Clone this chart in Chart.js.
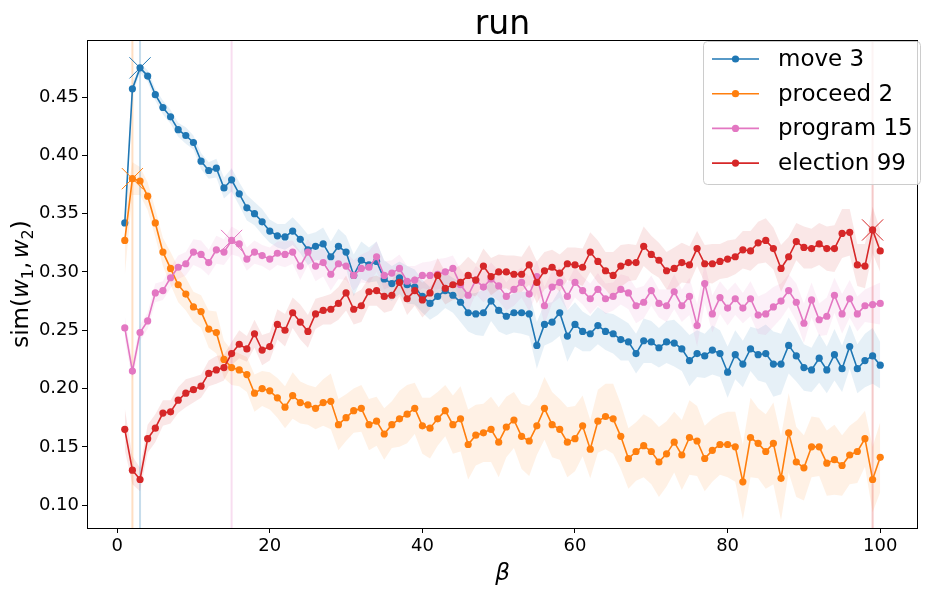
<!DOCTYPE html>
<html>
<head>
<meta charset="utf-8">
<script src="https://cdn.jsdelivr.net/npm/chart.js@4.4.1/dist/chart.umd.min.js"></script>
<style>
  html, body { margin: 0; padding: 0; background: #fff; }
  #wrap { width: 934px; height: 592px; }
</style>
</head>
<body>
<div id="wrap"><canvas id="chart" width="934" height="592"></canvas></div>
<script>
const TITLE = "run";
const X_LABEL = "β";
// y label pieces: [text, style] — "sub" parts are drawn smaller and lowered
const Y_LABEL = [["sim(", "n"], ["w", "i"], ["1", "sub"], [",", "n"], ["w", "i"], ["2", "sub"], [")", "n"]];
const Y_TICKS = [0.10, 0.15, 0.20, 0.25, 0.30, 0.35, 0.40, 0.45];
const X_TICKS = [0, 20, 40, 60, 80, 100];

// beta = 1..100
const BETA = Array.from({ length: 100 }, (_, i) => i + 1);

const MOVE = [
  0.342, 0.457, 0.475, 0.468, 0.452, 0.441, 0.433, 0.422, 0.417, 0.411,
  0.395, 0.387, 0.389, 0.372, 0.379, 0.367, 0.355, 0.350, 0.343, 0.335,
  0.331, 0.330, 0.335, 0.328, 0.319, 0.322, 0.324, 0.313, 0.322, 0.317,
  0.297, 0.310, 0.306, 0.309, 0.294, 0.290, 0.295, 0.289, 0.287, 0.279,
  0.273, 0.279, 0.284, 0.280, 0.274, 0.265, 0.264, 0.265, 0.275, 0.267,
  0.262, 0.265, 0.265, 0.264, 0.237, 0.255, 0.257, 0.265, 0.245, 0.255,
  0.249, 0.247, 0.254, 0.249, 0.247, 0.242, 0.240, 0.230, 0.241, 0.240,
  0.235, 0.240, 0.239, 0.234, 0.224, 0.230, 0.228, 0.233, 0.230, 0.214,
  0.229, 0.221, 0.234, 0.229, 0.230, 0.221, 0.221, 0.237, 0.228, 0.218,
  0.216, 0.226, 0.216, 0.229, 0.217, 0.236, 0.217, 0.224, 0.228, 0.220,
];
const PROCEED = [
  0.327, 0.380, 0.378, 0.365, 0.342, 0.317, 0.303, 0.289, 0.281, 0.270,
  0.266, 0.251, 0.248, 0.225, 0.218, 0.216, 0.212, 0.196, 0.200, 0.198,
  0.192, 0.184, 0.194, 0.188, 0.186, 0.183, 0.188, 0.189, 0.169, 0.175,
  0.181, 0.183, 0.169, 0.172, 0.161, 0.169, 0.174, 0.178, 0.183, 0.168,
  0.166, 0.174, 0.181, 0.169, 0.174, 0.152, 0.160, 0.162, 0.165, 0.154,
  0.167, 0.173, 0.159, 0.155, 0.168, 0.183, 0.169, 0.165, 0.154, 0.157,
  0.168, 0.148, 0.172, 0.176, 0.174, 0.159, 0.140, 0.146, 0.151, 0.146,
  0.137, 0.144, 0.154, 0.143, 0.158, 0.155, 0.140, 0.147, 0.152, 0.152,
  0.150, 0.120, 0.158, 0.153, 0.146, 0.153, 0.123, 0.162, 0.137, 0.132,
  0.150, 0.150, 0.136, 0.139, 0.134, 0.143, 0.146, 0.157, 0.122, 0.141,
];
const PROGRAM = [
  0.252, 0.215, 0.248, 0.258, 0.282, 0.284, 0.295, 0.304, 0.307, 0.317,
  0.315, 0.308, 0.319, 0.317, 0.327, 0.324, 0.311, 0.317, 0.314, 0.311,
  0.316, 0.315, 0.317, 0.305, 0.317, 0.305, 0.308, 0.298, 0.307, 0.305,
  0.297, 0.303, 0.304, 0.313, 0.297, 0.299, 0.303, 0.292, 0.293, 0.297,
  0.297, 0.298, 0.300, 0.303, 0.289, 0.280, 0.293, 0.287, 0.294, 0.288,
  0.279, 0.285, 0.291, 0.281, 0.296, 0.271, 0.287, 0.291, 0.279, 0.291,
  0.284, 0.277, 0.285, 0.277, 0.279, 0.285, 0.282, 0.271, 0.274, 0.284,
  0.273, 0.271, 0.283, 0.271, 0.279, 0.254, 0.290, 0.264, 0.278, 0.269,
  0.277, 0.269, 0.277, 0.263, 0.264, 0.270, 0.275, 0.284, 0.274, 0.256,
  0.276, 0.259, 0.262, 0.280, 0.264, 0.277, 0.264, 0.271, 0.272, 0.273,
];
const ELECTION = [
  0.165, 0.130, 0.122, 0.157, 0.166, 0.179, 0.180, 0.190, 0.196, 0.199,
  0.202, 0.213, 0.216, 0.218, 0.230, 0.238, 0.234, 0.247, 0.233, 0.236,
  0.255, 0.250, 0.265, 0.257, 0.249, 0.264, 0.267, 0.268, 0.273, 0.282,
  0.268, 0.271, 0.283, 0.284, 0.279, 0.280, 0.291, 0.277, 0.284, 0.276,
  0.282, 0.297, 0.286, 0.289, 0.291, 0.297, 0.293, 0.305, 0.296, 0.300,
  0.300, 0.298, 0.298, 0.306, 0.291, 0.301, 0.304, 0.299, 0.307, 0.306,
  0.304, 0.317, 0.309, 0.301, 0.297, 0.305, 0.308, 0.308, 0.322, 0.315,
  0.310, 0.301, 0.303, 0.308, 0.306, 0.320, 0.307, 0.307, 0.309, 0.311,
  0.313, 0.319, 0.318, 0.325, 0.327, 0.320, 0.303, 0.313, 0.326, 0.321,
  0.320, 0.324, 0.320, 0.320, 0.333, 0.334, 0.306, 0.305, 0.336, 0.318,
];

// half-width of the shaded band around each line
const MOVE_SPREAD = [
  0.004, 0.005, 0.004, 0.005, 0.005, 0.006, 0.006, 0.006, 0.007, 0.006,
  0.007, 0.007, 0.008, 0.009, 0.010, 0.010, 0.011, 0.010, 0.011, 0.010,
  0.010, 0.011, 0.012, 0.012, 0.013, 0.012, 0.014, 0.013, 0.015, 0.014,
  0.018, 0.016, 0.015, 0.017, 0.016, 0.015, 0.014, 0.016, 0.015, 0.014,
  0.014, 0.016, 0.015, 0.015, 0.017, 0.016, 0.018, 0.020, 0.017, 0.018,
  0.016, 0.017, 0.018, 0.019, 0.020, 0.018, 0.017, 0.020, 0.022, 0.019,
  0.017, 0.015, 0.016, 0.016, 0.017, 0.018, 0.016, 0.017, 0.019, 0.018,
  0.017, 0.018, 0.020, 0.019, 0.022, 0.020, 0.019, 0.021, 0.020, 0.022,
  0.021, 0.020, 0.019, 0.022, 0.025, 0.028, 0.026, 0.024, 0.022, 0.020,
  0.019, 0.021, 0.020, 0.022, 0.020, 0.019, 0.021, 0.023, 0.024, 0.020,
];
const PROCEED_SPREAD = [
  0.030, 0.014, 0.012, 0.012, 0.012, 0.012, 0.014, 0.015, 0.014, 0.013,
  0.014, 0.016, 0.018, 0.016, 0.015, 0.014, 0.015, 0.016, 0.015, 0.016,
  0.017, 0.018, 0.020, 0.018, 0.017, 0.018, 0.020, 0.024, 0.022, 0.020,
  0.019, 0.020, 0.022, 0.021, 0.022, 0.020, 0.024, 0.025, 0.022, 0.024,
  0.026, 0.023, 0.022, 0.025, 0.028, 0.030, 0.026, 0.025, 0.028, 0.030,
  0.026, 0.024, 0.028, 0.030, 0.025, 0.027, 0.028, 0.026, 0.030, 0.028,
  0.026, 0.025, 0.027, 0.028, 0.030, 0.028, 0.026, 0.025, 0.027, 0.028,
  0.030, 0.028, 0.026, 0.030, 0.032, 0.030, 0.028, 0.027, 0.026, 0.028,
  0.030, 0.032, 0.034, 0.030, 0.032, 0.035, 0.036, 0.034, 0.030, 0.028,
  0.026, 0.025, 0.028, 0.030, 0.026, 0.025, 0.027, 0.024, 0.028, 0.030,
];
const PROGRAM_SPREAD = [
  0.010, 0.008, 0.007, 0.007, 0.008, 0.008, 0.009, 0.010, 0.010, 0.011,
  0.012, 0.011, 0.012, 0.011, 0.012, 0.011, 0.010, 0.010, 0.009, 0.010,
  0.010, 0.011, 0.010, 0.012, 0.011, 0.013, 0.012, 0.014, 0.013, 0.012,
  0.013, 0.012, 0.014, 0.013, 0.012, 0.011, 0.012, 0.013, 0.012, 0.011,
  0.012, 0.013, 0.012, 0.011, 0.013, 0.014, 0.012, 0.013, 0.014, 0.013,
  0.012, 0.014, 0.013, 0.015, 0.014, 0.016, 0.014, 0.013, 0.012, 0.013,
  0.012, 0.013, 0.014, 0.013, 0.012, 0.013, 0.014, 0.015, 0.014, 0.013,
  0.012, 0.014, 0.015, 0.014, 0.016, 0.018, 0.017, 0.016, 0.014, 0.015,
  0.014, 0.013, 0.015, 0.016, 0.018, 0.017, 0.015, 0.014, 0.016, 0.017,
  0.015, 0.014, 0.016, 0.015, 0.017, 0.016, 0.015, 0.014, 0.016, 0.018,
];
const ELECTION_SPREAD = [
  0.018, 0.012, 0.010, 0.012, 0.012, 0.011, 0.010, 0.011, 0.012, 0.011,
  0.010, 0.011, 0.012, 0.011, 0.010, 0.012, 0.011, 0.012, 0.013, 0.012,
  0.013, 0.014, 0.013, 0.015, 0.014, 0.013, 0.012, 0.013, 0.014, 0.015,
  0.013, 0.014, 0.012, 0.013, 0.014, 0.013, 0.012, 0.014, 0.013, 0.015,
  0.014, 0.015, 0.014, 0.013, 0.015, 0.016, 0.014, 0.015, 0.016, 0.015,
  0.014, 0.016, 0.015, 0.017, 0.018, 0.016, 0.015, 0.016, 0.014, 0.015,
  0.016, 0.017, 0.018, 0.016, 0.020, 0.018, 0.016, 0.015, 0.017, 0.016,
  0.015, 0.016, 0.018, 0.017, 0.016, 0.015, 0.016, 0.017, 0.015, 0.016,
  0.015, 0.016, 0.017, 0.018, 0.019, 0.018, 0.020, 0.017, 0.016, 0.018,
  0.017, 0.018, 0.019, 0.020, 0.021, 0.020, 0.018, 0.019, 0.020, 0.018,
];

const SERIES = [
  { label: "move 3", color: "#1f77b4", values: MOVE, spread: MOVE_SPREAD },
  { label: "proceed 2", color: "#ff7f0e", values: PROCEED, spread: PROCEED_SPREAD },
  { label: "program 15", color: "#e377c2", values: PROGRAM, spread: PROGRAM_SPREAD },
  { label: "election 99", color: "#d62728", values: ELECTION, spread: ELECTION_SPREAD },
];

const FONT = "'DejaVu Sans', sans-serif";

function rgba(hex, a) {
  const n = parseInt(hex.slice(1), 16);
  return `rgba(${(n >> 16) & 255},${(n >> 8) & 255},${n & 255},${a})`;
}

function peakOf(s) {
  let best = 0;
  s.values.forEach((v, i) => { if (v > s.values[best]) best = i; });
  return { x: BETA[best], y: s.values[best] };
}
SERIES.forEach((s) => { s.peak = peakOf(s); });

const datasets = [];
SERIES.forEach((s, k) => {
  datasets.push({
    data: BETA.map((b, i) => ({ x: b, y: s.values[i] + s.spread[i] })),
    borderWidth: 0, pointRadius: 0, fill: "+1",
    backgroundColor: rgba(s.color, 0.11), order: 20 - k,
  });
  datasets.push({
    data: BETA.map((b, i) => ({ x: b, y: s.values[i] - s.spread[i] })),
    borderWidth: 0, pointRadius: 0, fill: false, order: 20 - k,
  });
});
SERIES.forEach((s, k) => {
  datasets.push({
    data: BETA.map((b, i) => ({ x: b, y: s.values[i] })),
    borderColor: s.color, backgroundColor: s.color,
    borderWidth: 1.6, pointRadius: 3.6, pointBorderWidth: 0,
    fill: false, tension: 0, order: 10 - k,
  });
});
SERIES.forEach((s) => {
  datasets.push({
    data: [s.peak], showLine: false,
    pointStyle: "crossRot", pointRadius: 15, pointBorderWidth: 1,
    borderColor: s.color, backgroundColor: s.color, order: 0,
  });
});

// y label with italic w and lowered subscripts, drawn along the current x axis
function drawYLabel(ctx, size) {
  const fontOf = (st) => st === "i" ? `italic ${size}px ${FONT}`
    : st === "sub" ? `${size * 0.7}px ${FONT}` : `${size}px ${FONT}`;
  let total = 0;
  Y_LABEL.forEach(([t, st]) => {
    ctx.font = fontOf(st);
    total += ctx.measureText(t).width + (t === "," ? size * 0.15 : 0);
  });
  let x = -total / 2;
  ctx.textAlign = "left";
  Y_LABEL.forEach(([t, st]) => {
    ctx.font = fontOf(st);
    ctx.fillText(t, x, st === "sub" ? size * 0.2 : 0);
    x += ctx.measureText(t).width + (t === "," ? size * 0.15 : 0);
  });
}

const decor = {
  id: "decor",
  beforeDatasetsDraw(chart) {
    const { ctx, chartArea: a, scales: { x } } = chart;
    ctx.save();
    SERIES.forEach((s) => {
      const px = x.getPixelForValue(s.peak.x);
      ctx.strokeStyle = rgba(s.color, 0.25);
      ctx.lineWidth = 2;
      ctx.beginPath();
      ctx.moveTo(px, a.top);
      ctx.lineTo(px, a.bottom);
      ctx.stroke();
    });
    ctx.restore();
  },
  afterDraw(chart) {
    const { ctx, chartArea: a } = chart;
    ctx.save();
    // frame
    ctx.strokeStyle = "#000";
    ctx.lineWidth = 1;
    ctx.strokeRect(Math.round(a.left) + 0.5, Math.round(a.top) + 0.5,
      Math.round(a.right - a.left) - 1, Math.round(a.bottom - a.top));
    // title
    ctx.fillStyle = "#000";
    ctx.textAlign = "center";
    ctx.textBaseline = "alphabetic";
    ctx.font = `33px ${FONT}`;
    ctx.fillText(TITLE, (a.left + a.right) / 2, 34);
    // axis labels
    ctx.font = `italic 23px ${FONT}`;
    ctx.fillText(X_LABEL, (a.left + a.right) / 2, 580);
    ctx.save();
    ctx.translate(28, (a.top + a.bottom) / 2);
    ctx.rotate(-Math.PI / 2);
    drawYLabel(ctx, 23);
    ctx.restore();
    // legend
    const lx = 703, ly = 41, lw = 217, lh = 143;
    ctx.beginPath();
    ctx.roundRect(lx + 0.5, ly + 0.5, lw, lh, 4);
    ctx.fillStyle = "rgba(255,255,255,0.8)";
    ctx.fill();
    ctx.strokeStyle = "#cccccc";
    ctx.lineWidth = 1;
    ctx.stroke();
    ctx.font = `23px ${FONT}`;
    ctx.textAlign = "left";
    ctx.textBaseline = "middle";
    SERIES.forEach((s, i) => {
      const ry = 59 + i * 34.7;
      ctx.strokeStyle = s.color;
      ctx.lineWidth = 1.6;
      ctx.beginPath();
      ctx.moveTo(712, ry);
      ctx.lineTo(759, ry);
      ctx.stroke();
      ctx.fillStyle = s.color;
      ctx.beginPath();
      ctx.arc(735.5, ry, 3.6, 0, Math.PI * 2);
      ctx.fill();
      ctx.fillStyle = "#000";
      ctx.fillText(s.label, 778, ry + 1);
    });
    ctx.restore();
  },
};

Chart.defaults.font.family = FONT;
Chart.defaults.color = "#000";

new Chart(document.getElementById("chart"), {
  type: "line",
  data: { datasets },
  options: {
    responsive: false,
    devicePixelRatio: 1,
    animation: false,
    events: [],
    layout: { padding: { top: 40, right: 13, left: 0, bottom: 0 } },
    plugins: { legend: { display: false }, tooltip: { enabled: false }, title: { display: false } },
    scales: {
      x: {
        type: "linear",
        min: -3.95,
        max: 104.95,
        afterFit: (s) => { s.height = 64; },
        afterBuildTicks: (s) => { s.ticks = X_TICKS.map((v) => ({ value: v })); },
        ticks: { font: { size: 18 }, padding: 3, maxRotation: 0, callback: (v) => String(v) },
        grid: { drawOnChartArea: false, drawTicks: true, tickLength: 5, tickColor: "#000", tickWidth: 1 },
        border: { display: false },
      },
      y: {
        min: 0.0804,
        max: 0.4989,
        afterFit: (s) => { s.width = 87; },
        afterBuildTicks: (s) => { s.ticks = Y_TICKS.map((v) => ({ value: v })); },
        ticks: { font: { size: 18 }, padding: 3, callback: (v) => Number(v).toFixed(2) },
        grid: { drawOnChartArea: false, drawTicks: true, tickLength: 5, tickColor: "#000", tickWidth: 1 },
        border: { display: false },
      },
    },
  },
  plugins: [decor],
});
</script>
</body>
</html>
